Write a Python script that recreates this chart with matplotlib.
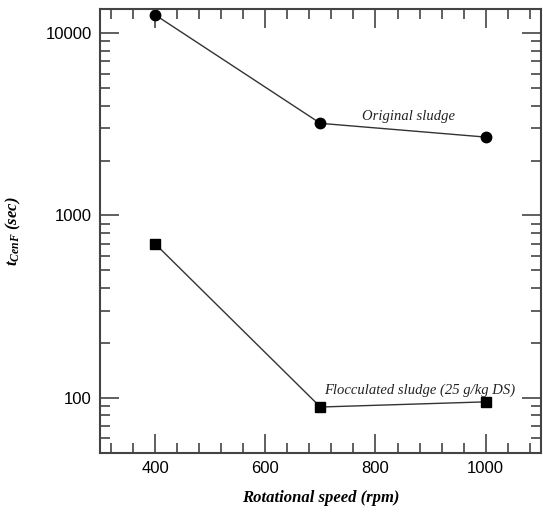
import matplotlib
matplotlib.use("Agg")
import matplotlib.pyplot as plt
from matplotlib.ticker import MultipleLocator, FixedLocator, LogLocator, NullFormatter

# Data
speed = [400, 700, 1000]
original = [12600, 3200, 2690]
flocculated = [700, 89, 95]

plt.rcParams['mathtext.fontset'] = 'custom'
plt.rcParams['mathtext.it'] = 'Liberation Serif:italic:bold'
plt.rcParams['mathtext.rm'] = 'Liberation Serif:bold'

fig = plt.figure(figsize=(5.43, 5.15), dpi=100)
ax = fig.add_axes([0.184, 0.121, 0.812, 0.862])

ax.plot(speed, original, color='#333333', lw=1.0, marker='o', ms=7.5,
        mfc='black', mec='black')
ax.plot(speed, flocculated, color='#333333', lw=1.0, marker='s', ms=6.5,
        mfc='black', mec='black')

ax.set_yscale('log')
ax.set_xlim(300, 1100)
ax.set_ylim(50, 13600)

ax.xaxis.set_major_locator(FixedLocator([400, 600, 800, 1000]))
ax.xaxis.set_minor_locator(MultipleLocator(40))
ax.yaxis.set_major_locator(FixedLocator([100, 1000, 10000]))
ax.yaxis.set_minor_locator(LogLocator(base=10, subs=range(2, 10)))
ax.yaxis.set_minor_formatter(NullFormatter())
ax.set_yticklabels(['100', '1000', '10000'])

ax.tick_params(which='both', direction='in', top=True, right=True,
               color='#444444', width=1.2)
ax.tick_params(which='major', length=14, labelsize=12, pad=6)
ax.tick_params(which='minor', length=7)
for lab in ax.get_xticklabels() + ax.get_yticklabels():
    lab.set_family('Liberation Sans')

for sp in ax.spines.values():
    sp.set_linewidth(1.5)
    sp.set_color('#444444')

ax.set_xlabel('Rotational speed (rpm)', family='Liberation Serif',
              style='italic', weight='bold', fontsize=12, labelpad=10)
ax.set_ylabel(r'$t_{CenF}$ (sec)', family='Liberation Serif',
              style='italic', weight='bold', fontsize=12, labelpad=16)

ax.text(859, 3470, 'Original sludge', family='Liberation Serif',
        style='italic', fontsize=10.5, ha='center', va='center', color='#222222')
ax.text(881, 110, 'Flocculated sludge (25 g/kg DS)', family='Liberation Serif',
        style='italic', fontsize=10.5, ha='center', va='center', color='#222222')

fig.savefig('out.png', dpi=100)
